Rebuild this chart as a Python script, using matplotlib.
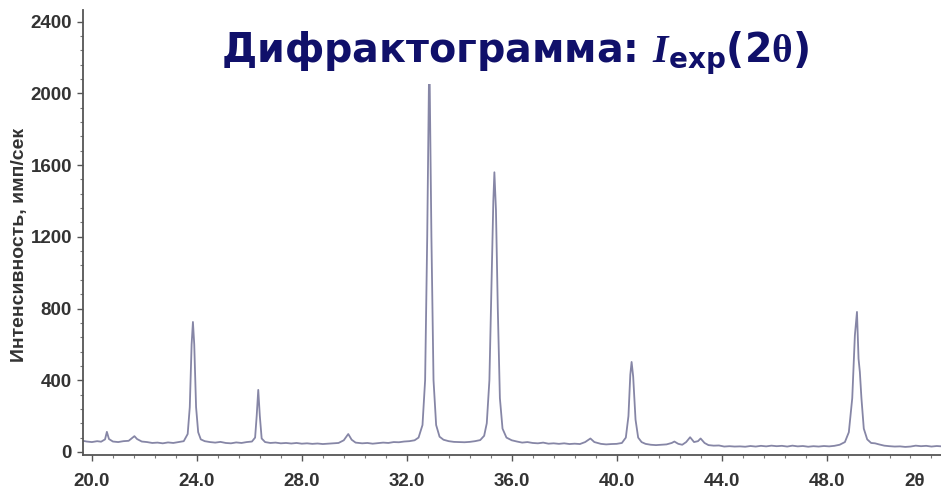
import matplotlib
matplotlib.use('Agg')
import matplotlib.pyplot as plt
import matplotlib.ticker as ticker
import numpy as np

# traced points of the diffractogram (2theta in degrees, counts per second)
two_theta = [19.66, 19.8, 20.0, 20.2, 20.35, 20.5, 20.57, 20.65, 20.8, 21.0, 21.2, 21.4, 21.55, 21.62, 21.72,
             21.9, 22.1, 22.3, 22.5, 22.7, 22.9, 23.1, 23.3, 23.5, 23.65, 23.73, 23.80, 23.85, 23.90, 23.97,
             24.05, 24.15, 24.3, 24.5, 24.7, 24.9, 25.1, 25.3, 25.5, 25.7, 25.9, 26.1, 26.22, 26.28, 26.34,
             26.40, 26.47, 26.6, 26.8, 27.0, 27.2, 27.4, 27.6, 27.8, 28.0, 28.2, 28.4, 28.6, 28.8, 29.0,
             29.2, 29.4, 29.6, 29.77, 29.9, 30.05, 30.3, 30.5, 30.7, 30.9, 31.1, 31.3, 31.5, 31.7, 31.9,
             32.1, 32.3, 32.45, 32.6, 32.7, 32.78, 32.86, 32.94, 33.02, 33.12, 33.25, 33.4, 33.6, 33.8, 34.0,
             34.2, 34.4, 34.6, 34.8, 34.95, 35.05, 35.15, 35.24, 35.30, 35.34, 35.40, 35.47, 35.55, 35.65, 35.8,
             36.0, 36.2, 36.4, 36.6, 36.8, 37.0, 37.2, 37.4, 37.6, 37.8, 38.0, 38.2, 38.4, 38.6, 38.8,
             39.0, 39.15, 39.4, 39.6, 39.8, 40.0, 40.2, 40.35, 40.45, 40.52, 40.57, 40.63, 40.72, 40.82, 40.95,
             41.1, 41.3, 41.5, 41.7, 41.9, 42.1, 42.2, 42.35, 42.5, 42.65, 42.8, 42.95, 43.1, 43.2, 43.35,
             43.5, 43.7, 43.9, 44.1, 44.3, 44.5, 44.7, 44.9, 45.1, 45.3, 45.5, 45.7, 45.9, 46.1, 46.3,
             46.5, 46.7, 46.9, 47.1, 47.3, 47.5, 47.7, 47.9, 48.1, 48.3, 48.5, 48.7, 48.85, 48.98, 49.08,
             49.16, 49.22, 49.27, 49.33, 49.42, 49.55, 49.7, 49.85, 50.0, 50.2, 50.4, 50.6, 50.8, 51.0, 51.2,
             51.4, 51.6, 51.8, 52.0, 52.2, 52.4]
intensity = [62, 58, 55, 60, 57, 70, 112, 72, 58, 55, 60, 62, 80, 88, 72,
             58, 55, 50, 52, 48, 53, 50, 55, 60, 100, 250, 600, 725, 600, 250,
             110, 70, 60, 55, 52, 56, 50, 48, 53, 50, 55, 58, 80, 200, 346,
             200, 75, 55, 50, 52, 48, 50, 47, 50, 46, 48, 45, 47, 44, 46,
             48, 50, 65, 100, 68, 52, 48, 50, 46, 49, 52, 50, 55, 54, 58,
             60, 65, 80, 150, 400, 1200, 2250, 1200, 400, 150, 85, 68, 60, 56, 55,
             54, 56, 60, 66, 90, 160, 400, 1000, 1400, 1560, 1350, 800, 300, 130, 80,
             65, 58, 52, 55, 50, 48, 52, 46, 48, 45, 48, 44, 46, 44, 55,
             75, 55, 45, 42, 44, 45, 50, 80, 200, 430, 502, 420, 180, 80, 55,
             45, 40, 38, 40, 42, 50, 58, 45, 40, 55, 82, 55, 60, 75, 50,
             38, 35, 36, 30, 32, 30, 31, 29, 33, 30, 34, 31, 35, 32, 34,
             30, 35, 31, 33, 29, 32, 30, 33, 31, 34, 40, 55, 110, 300, 650,
             781, 520, 446, 300, 130, 70, 50, 48, 42, 35, 32, 30, 31, 28, 30,
             35, 32, 34, 30, 33, 31]

x_ticks = [20, 24, 28, 32, 36, 40, 44, 48]
x_labels = ['20.0', '24.0', '28.0', '32.0', '36.0', '40.0', '44.0', '48.0']
y_ticks = [0, 400, 800, 1200, 1600, 2000, 2400]

plt.rcParams['font.family'] = ['Liberation Sans', 'DejaVu Sans']
plt.rcParams['mathtext.fontset'] = 'custom'
plt.rcParams['mathtext.sf'] = 'DejaVu Sans:bold'
plt.rcParams['mathtext.rm'] = 'Liberation Serif:bold'
plt.rcParams['mathtext.bfit'] = 'Liberation Serif:bold:italic'

fig = plt.figure(figsize=(9.41, 4.94), dpi=100)
ax = fig.add_axes([0.0882, 0.079, 0.912, 0.901])

ax.plot(two_theta, intensity, color='#8686a6', lw=1.3)

ax.set_xlim(19.66, 52.37)
ax.set_ylim(-17, 2466)

ax.set_xticks(x_ticks)
ax.set_xticklabels(x_labels)
ax.set_yticks(y_ticks)
ax.xaxis.set_minor_locator(ticker.MultipleLocator(0.8))
ax.yaxis.set_minor_locator(ticker.MultipleLocator(80))

for s in ['top', 'right']:
    ax.spines[s].set_visible(False)
for s in ['left', 'bottom']:
    ax.spines[s].set_color('#555555')
    ax.spines[s].set_linewidth(1.3)

ax.tick_params(axis='both', which='major', length=4, width=1, color='#555555',
               labelsize=13.5, labelcolor='#333333', pad=4)
ax.tick_params(axis='both', which='minor', length=2.5, width=0.8, color='#777777')
for lab in ax.get_xticklabels() + ax.get_yticklabels():
    lab.set_fontweight('bold')
ax.tick_params(axis='x', which='major', pad=9)

ax.text(51.37, -0.06, '2θ', transform=ax.get_xaxis_transform(), ha='center', va='center',
        fontsize=13.5, fontweight='bold', color='#333333')

fig.text(0.021, 0.505, 'Интенсивность, имп/сек', rotation=90, ha='center', va='center',
         fontsize=14, fontweight='bold', color='#333333')

fig.text(0.547, 0.893, r'Дифрактограмма: $\mathbfit{I}_{\mathsf{exp}}\mathsf{(2}\mathrm{\theta}\mathsf{)}$',
         ha='center', va='center', fontsize=28.5, fontweight='bold', color='#10106a', zorder=10,
         family=['DejaVu Sans'],
         bbox=dict(facecolor='white', edgecolor='none', pad=5))

fig.savefig('out.png', dpi=100)
